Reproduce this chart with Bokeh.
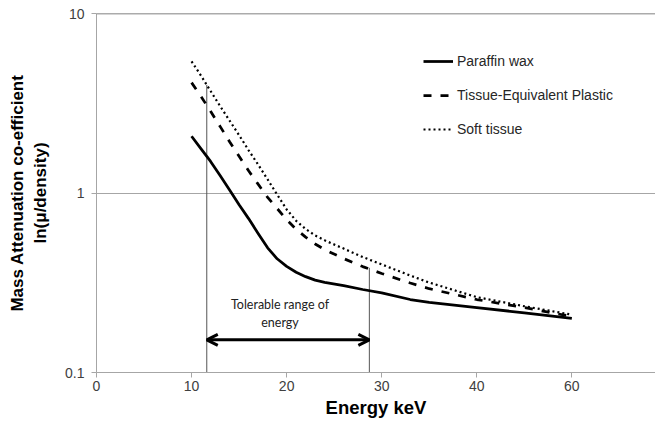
from bokeh.plotting import figure
from bokeh.models import (FixedTicker, Span, Label, Arrow, OpenHead, Legend,
                          LegendItem, BasicTickFormatter)
from bokeh.embed import file_html
from bokeh.resources import INLINE

# ---- data (x positions on the evenly spaced axis; the last tick label reads "60") ----
energy = [10, 11, 12, 13, 14, 15, 16, 17, 18, 19, 20, 21, 22, 23, 24, 26, 28, 30, 33, 35, 40, 45, 50]
paraffin = [2.07, 1.76, 1.50, 1.25, 1.04, 0.86, 0.72, 0.595, 0.495, 0.43, 0.39, 0.362, 0.342, 0.327,
            0.318, 0.305, 0.29, 0.278, 0.255, 0.246, 0.23, 0.215, 0.20]
tep = [4.12, 3.45, 2.85, 2.35, 1.93, 1.60, 1.33, 1.12, 0.946, 0.82, 0.71, 0.628, 0.568, 0.52,
       0.484, 0.431, 0.389, 0.356, 0.315, 0.293, 0.255, 0.23, 0.205]
soft = [5.41, 4.50, 3.70, 3.05, 2.53, 2.10, 1.73, 1.44, 1.19, 0.98, 0.81, 0.70, 0.63, 0.58,
        0.545, 0.49, 0.44, 0.40, 0.347, 0.317, 0.263, 0.234, 0.21]

x_tick_values = [0, 10, 20, 30, 40, 50]
x_tick_labels = ["0", "10", "20", "30", "40", "60"]
y_tick_values = [0.1, 1, 10]
y_tick_labels = ["0.1", "1", "10"]

range_x = [11.6, 28.7]          # tolerable range limits
range_top = [4.0, 0.383]        # where the marker lines stop
arrow_y = 0.152
note_lines = ["Tolerable range of", "energy"]
note_x = 19.3
note_y = [0.238, 0.191]

FONT = "Liberation Sans"

p = figure(width=655, height=421, y_axis_type="log",
           x_range=(0, 58.8), y_range=(0.1, 10),
           output_backend="svg", toolbar_location=None,
           min_border_left=96, min_border_right=0, min_border_top=13,
           min_border_bottom=49)
p.outline_line_color = None
p.background_fill_color = "white"

# axes
p.xaxis.ticker = FixedTicker(ticks=x_tick_values)
p.xaxis.major_label_overrides = dict(zip(x_tick_values, x_tick_labels))
p.yaxis.ticker = FixedTicker(ticks=y_tick_values)
p.yaxis.formatter = BasicTickFormatter()
p.yaxis.major_label_overrides = dict(zip(y_tick_values, y_tick_labels))
for ax in (p.xaxis[0], p.yaxis[0]):
    ax.axis_line_color = "#a6a6a6"
    ax.major_tick_line_color = "#a6a6a6"
    ax.minor_tick_line_color = None
    ax.major_tick_in = 0
    ax.major_tick_out = 5
    ax.major_label_text_font = FONT
    ax.major_label_text_font_size = "14px"
    ax.major_label_text_color = "#404040"
    ax.axis_label_text_font = FONT
    ax.axis_label_text_font_style = "bold"
    ax.axis_label_text_color = "black"
p.xaxis.axis_label_text_font_size = "18.5px"
p.yaxis.axis_label_text_font_size = "17px"
p.xaxis.major_label_standoff = 3
p.xaxis.axis_label_standoff = 3
p.yaxis.major_label_standoff = 7
p.yaxis.axis_label_standoff = 12
p.xaxis.axis_label = "Energy keV"
p.yaxis.axis_label = "Mass Attenuation co-efficient\nln(\u03bc/density)"

p.xgrid.grid_line_color = None
p.ygrid.ticker = FixedTicker(ticks=[1, 10])
p.ygrid.grid_line_color = "#a6a6a6"
p.add_layout(Span(location=10, dimension="width", line_color="#595959", line_width=1.5))

# range marker lines
p.segment(x0=range_x, y0=[0.1, 0.1], x1=range_x, y1=range_top,
          line_color="#555555", line_width=1)

# curves
r1 = p.line(energy, paraffin, line_color="black", line_width=2.75, line_join="round")
r2 = p.line(energy, tep, line_color="black", line_width=2.75, line_dash="8 9")
r3 = p.line(energy, soft, line_color="black", line_width=2.2, line_dash="2 3")

legend = Legend(items=[LegendItem(label="Paraffin wax", renderers=[r1]),
                       LegendItem(label="Tissue-Equivalent Plastic", renderers=[r2]),
                       LegendItem(label="Soft tissue", renderers=[r3])],
                location=(327, 233), orientation="vertical")
legend.border_line_color = None
legend.background_fill_alpha = 0
legend.padding = 0
legend.margin = 0
legend.glyph_width = 30
legend.glyph_height = 20
legend.label_height = 20
legend.spacing = 14
legend.label_standoff = 4
legend.label_text_font = FONT
legend.label_text_font_size = "14px"
legend.label_text_color = "#262626"
p.add_layout(legend)

# double arrow
p.add_layout(Arrow(x_start=range_x[0], y_start=arrow_y, x_end=range_x[1], y_end=arrow_y,
                   line_width=3, line_color="black",
                   start=OpenHead(size=11, line_width=3, line_color="black"),
                   end=OpenHead(size=11, line_width=3, line_color="black")))

for txt, yy in zip(note_lines, note_y):
    p.add_layout(Label(x=note_x, y=yy, text=txt, text_align="center",
                       text_baseline="middle", text_font="Lato",
                       text_font_size="12.5px", text_color="#222222"))

open("out.html", "w").write(file_html(p, INLINE))
